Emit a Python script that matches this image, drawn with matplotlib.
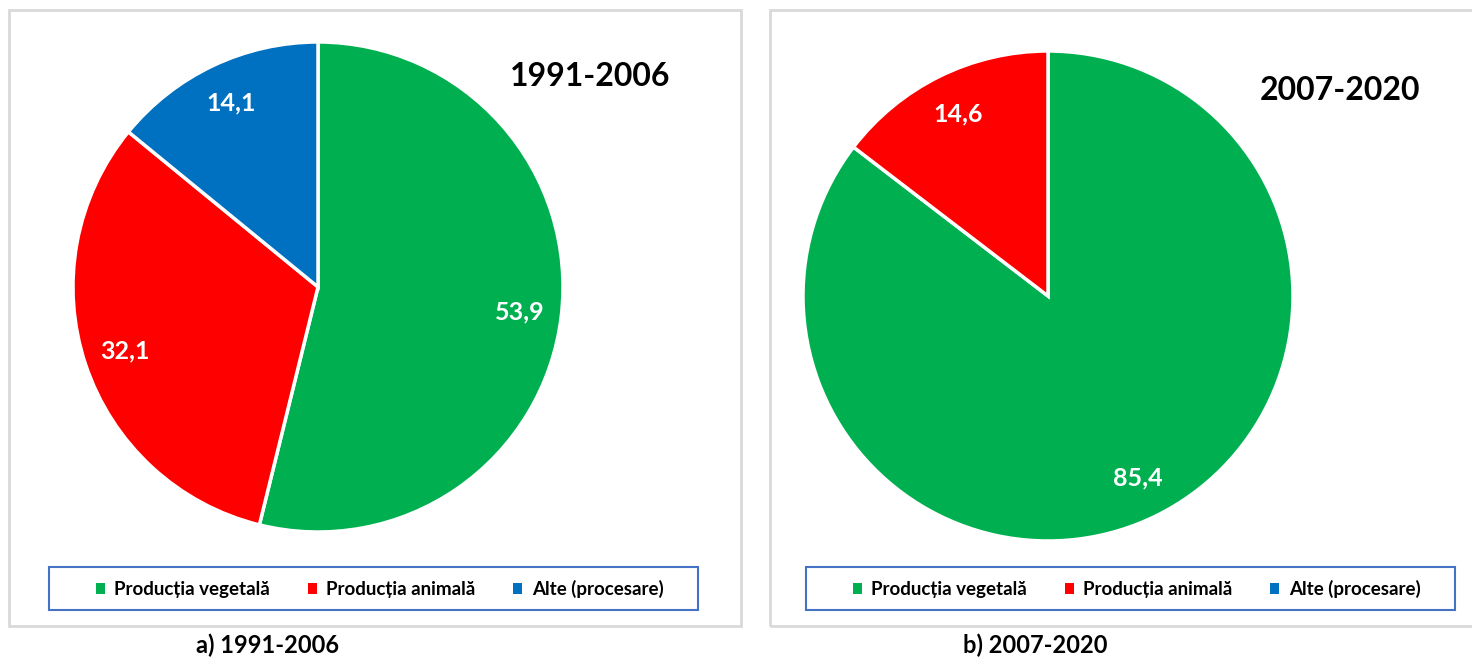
import matplotlib
matplotlib.use("Agg")
import matplotlib.pyplot as plt
from matplotlib.patches import Rectangle, Patch

# -----------------------------------------------------------------
# date
# -----------------------------------------------------------------
categorii = ["Producția vegetală", "Producția animală", "Alte (procesare)"]
culori = ["#00b050", "#ff0000", "#0070c0"]
valori_1991_2006 = [53.9, 32.1, 14.1]
valori_2007_2020 = [85.4, 14.6, 0.0]
titluri = ["1991-2006", "2007-2020"]
subtitluri = ["a) 1991-2006", "b) 2007-2020"]

plt.rcParams["font.family"] = ["Lato", "DejaVu Sans"]

W, H = 1472, 657
fig = plt.figure(figsize=(W / 100, H / 100), dpi=100)


def px(x, y):
    # pixeli -> coordonate figura
    return x / W, 1 - y / H


# chenare panouri
for x0, x1 in [(9, 741), (770, 1478)]:
    fig.patches.append(Rectangle(px(x0, 626), (x1 - x0) / W, 616 / H,
                                 transform=fig.transFigure, fill=False,
                                 edgecolor="#d9d9d9", linewidth=2))

panouri = [
    dict(vals=valori_1991_2006, cx=318, cy=287, tx=590, ty=77, leg=(49, 698), cap=268),
    dict(vals=valori_2007_2020, cx=1048, cy=296, tx=1340, ty=90, leg=(806, 1455), cap=1035),
]
r = 245

for i, p in enumerate(panouri):
    ax = fig.add_axes([(p["cx"] - r) / W, (H - p["cy"] - r) / H, 2 * r / W, 2 * r / H])
    vals = [v for v in p["vals"] if v > 0]
    cols = [c for v, c in zip(p["vals"], culori) if v > 0]
    wedges, texts = ax.pie(vals, colors=cols, startangle=90, counterclock=False,
                           labels=[f"{v:.1f}".replace(".", ",") for v in vals],
                           labeldistance=0.83,
                           wedgeprops=dict(edgecolor="white", linewidth=2.5),
                           textprops=dict(color="white", fontsize=18, fontweight="bold",
                                          ha="center", va="center"))
    for t in texts:
        t.set_ha("center")
    ax.set_xlim(-1, 1)
    ax.set_ylim(-1, 1)
    ax.set_aspect("equal")

    # titlu in interior
    fig.text(*px(p["tx"], p["ty"]), titluri[i], ha="center", va="center",
             fontsize=23, fontweight="bold")

    # legenda
    lx0, lx1 = p["leg"]
    fig.patches.append(Rectangle(px(lx0, 610), (lx1 - lx0) / W, 43 / H,
                                 transform=fig.transFigure, fill=False,
                                 edgecolor="#4472c4", linewidth=1.5))
    handles = [Patch(facecolor=c, edgecolor="none") for c in culori]
    fig.legend(handles, categorii, loc="center", bbox_to_anchor=px((lx0 + lx1) / 2 + 6, 589),
               ncol=3, frameon=False, handlelength=0.5, handleheight=0.5,
               handletextpad=0.5, columnspacing=2.0,
               prop=dict(size=13.5, weight="bold"))

    # subtitlu
    fig.text(*px(p["cap"], 645), subtitluri[i], ha="center", va="center",
             fontsize=17, fontweight="bold")

fig.savefig("out.png", dpi=100)
